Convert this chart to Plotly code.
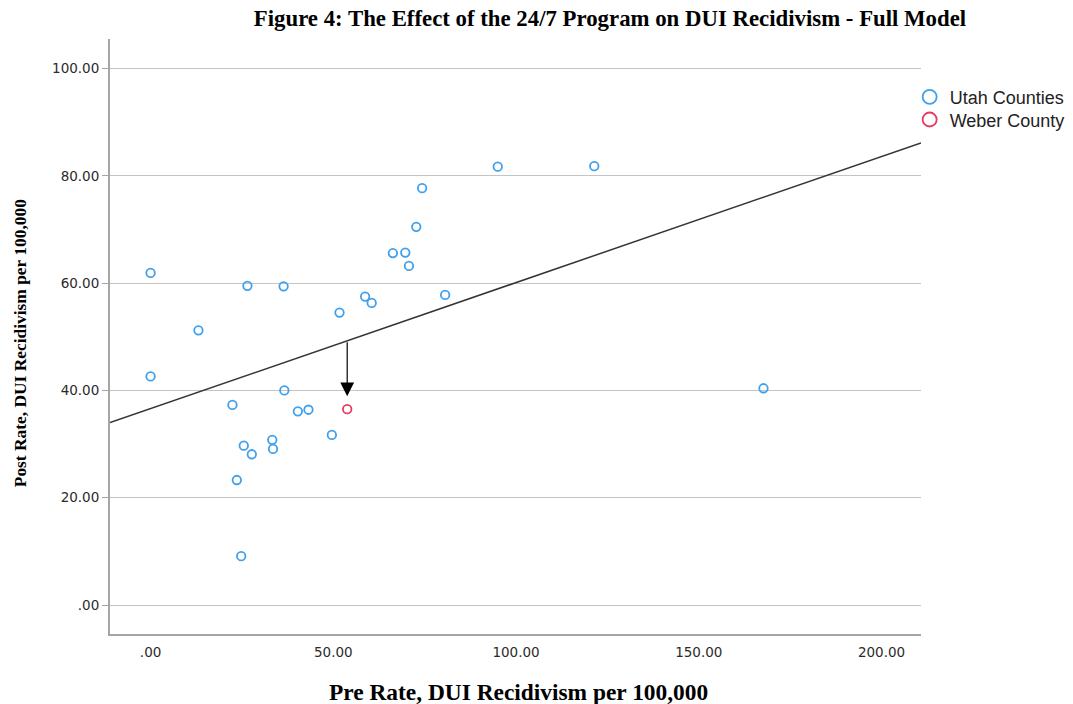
import plotly.graph_objects as go

# ---- data ----
utah_pre = [0.0, 0.0, 13.1, 22.4, 23.6, 24.8, 25.5, 26.5, 27.7, 33.3, 33.5, 36.4, 36.6,
            40.3, 43.2, 49.6, 51.7, 58.7, 60.5, 66.3, 69.7, 70.7, 72.7, 74.3, 80.6,
            95.0, 121.4, 167.7]
utah_post = [61.9, 42.6, 51.2, 37.3, 23.3, 9.1, 29.7, 59.5, 28.1, 30.8, 29.1, 59.4, 40.0,
             36.1, 36.4, 31.7, 54.5, 57.5, 56.3, 65.6, 65.7, 63.2, 70.5, 77.7, 57.8,
             81.7, 81.8, 40.4]
weber_pre = [53.8]
weber_post = [36.5]

fit_intercept = 36.6
fit_slope = 0.235

arrow_tip_y = 38.9

x_range = [-11.1, 210.8]
y_range = [-5.4, 105.5]

x_tickvals = [0, 50, 100, 150, 200]
x_ticktext = [".00", "50.00", "100.00", "150.00", "200.00"]
y_tickvals = [0, 20, 40, 60, 80, 100]
y_ticktext = [".00", "20.00", "40.00", "60.00", "80.00", "100.00"]

title_text = "Figure 4: The Effect of the 24/7 Program on DUI Recidivism - Full Model"
x_title = "Pre Rate, DUI Recidivism per 100,000"
y_title = "Post Rate, DUI Recidivism per 100,000"
series_names = ["Utah Counties", "Weber County"]

blue = "#3fa0ec"
red = "#e63a62"

fit_x = [x_range[0], x_range[1]]
fit_y = [fit_intercept + fit_slope * v for v in fit_x]
arrow_tail_y = fit_intercept + fit_slope * weber_pre[0]

fig = go.Figure()

fig.add_trace(go.Scatter(
    x=fit_x, y=fit_y, mode="lines",
    line=dict(color="#333333", width=1.5),
    showlegend=False, hoverinfo="skip"))

fig.add_trace(go.Scatter(
    x=utah_pre, y=utah_post, mode="markers", name=series_names[0],
    marker=dict(symbol="circle-open", size=8.5, color=blue, line=dict(width=1.8, color=blue)),
    showlegend=False))

fig.add_trace(go.Scatter(
    x=weber_pre, y=weber_post, mode="markers", name=series_names[1],
    marker=dict(symbol="circle-open", size=8.5, color=red, line=dict(width=1.8, color=red)),
    showlegend=False))

# legend-only entries with larger symbols, one legend each for exact row spacing
for nm, col, lg in zip(series_names, [blue, red], ["legend", "legend2"]):
    fig.add_trace(go.Scatter(
        x=[None], y=[None], mode="markers", name=nm, legend=lg,
        marker=dict(symbol="circle-open", size=14, color=col, line=dict(width=1.8, color=col)),
        showlegend=True))

fig.add_annotation(
    x=weber_pre[0], y=arrow_tip_y, ax=weber_pre[0], ay=arrow_tail_y,
    xref="x", yref="y", axref="x", ayref="y",
    text="", showarrow=True, arrowhead=2, arrowsize=2.3, arrowwidth=1.2,
    arrowcolor="#000000", standoff=0)

fig.add_annotation(
    text=x_title, xref="paper", yref="paper", x=0.5037, y=-0.0975,
    xanchor="center", yanchor="middle", showarrow=False,
    font=dict(family="Liberation Serif", size=23.4, color="#000000", weight="bold"))

fig.add_annotation(
    text=y_title, xref="paper", yref="paper", x=-0.1115, y=0.488,
    xanchor="center", yanchor="middle", showarrow=False, textangle=-90,
    font=dict(family="Liberation Serif", size=17.4, color="#000000", weight="bold"))

legend_common = dict(xanchor="left", yanchor="top",
                     font=dict(family="Liberation Sans", size=18, color="#222222"),
                     bgcolor="rgba(0,0,0,0)", itemwidth=30)

fig.update_layout(
    width=1073, height=704,
    margin=dict(l=110, r=152, t=39, b=70, autoexpand=False),
    paper_bgcolor="white", plot_bgcolor="white",
    title=dict(text="<b>" + title_text + "</b>", x=0.5685, xref="container", xanchor="center",
               y=1 - 18 / 704, yref="container", yanchor="middle",
               font=dict(family="Liberation Serif", size=22.8, color="#000000")),
    legend=dict(x=0.986, y=0.9333, **legend_common),
    legend2=dict(x=0.986, y=0.8953, **legend_common),
    xaxis=dict(range=x_range, tickvals=x_tickvals, ticktext=x_ticktext,
               showgrid=False, zeroline=False, showline=True, linecolor="#a6a6a6", linewidth=2,
               ticks="outside", ticklen=5, tickcolor="rgba(0,0,0,0)",
               tickfont=dict(family="DejaVu Sans", size=13.5, color="#2b2b2b")),
    yaxis=dict(range=y_range, tickvals=y_tickvals, ticktext=y_ticktext,
               showgrid=True, gridcolor="#c4c4c4", gridwidth=1.3, zeroline=False,
               showline=True, linecolor="#a6a6a6", linewidth=2,
               ticks="outside", ticklen=6, tickcolor="#a6a6a6", tickwidth=1.3,
               tickfont=dict(family="DejaVu Sans", size=13.5, color="#2b2b2b")),
)

fig.write_html("out.html")
